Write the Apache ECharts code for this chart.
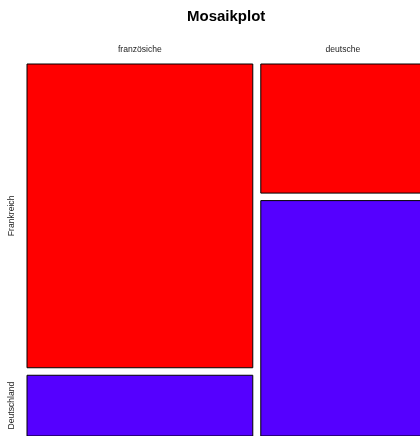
<!DOCTYPE html>
<html>
<head>
<meta charset="utf-8">
<script src="https://cdn.jsdelivr.net/npm/echarts@6/dist/echarts.min.js"></script>
<style>html,body{margin:0;padding:0;background:#fff}#c{width:420px;height:436px}</style>
</head>
<body>
<div id="c"></div>
<script>
// Data
var columns = ['französiche', 'deutsche'];
var rows = ['Frankreich', 'Deutschland'];
var frankreich = [55, 17];
var deutschland = [11, 31];
var rowColors = ['#ff0000', '#5500ff'];

var values = [frankreich, deutschland];
var colTotals = columns.map(function (c, i) { return frankreich[i] + deutschland[i]; });
var grand = colTotals.reduce(function (a, b) { return a + b; }, 0);
var colStarts = [];
(function () { var s = 0; colTotals.forEach(function (t) { colStarts.push(s); s += t; }); })();

var GAP_X = 8, GAP_Y = 7.5;
var FONT = 'Liberation Sans, Arial, Helvetica, sans-serif';

var cells = [];
columns.forEach(function (c, ci) {
  rows.forEach(function (r, ri) { cells.push([ci, ri]); });
});

var chart = echarts.init(document.getElementById('c'), null, { renderer: 'canvas' });
chart.setOption({
  animation: false,
  backgroundColor: '#fff',
  title: {
    text: 'Mosaikplot', left: 182, top: 4,
    textStyle: { fontFamily: FONT, fontSize: 15, fontWeight: 'bold', color: '#000' }
  },
  grid: { left: 27, top: 64, width: 390, height: 364.5 },
  xAxis: { type: 'value', min: 0, max: grand, show: false },
  yAxis: { type: 'value', min: 0, max: 1, inverse: true, show: false },
  series: [{
    type: 'custom',
    clip: false,
    data: cells,
    renderItem: function (params, api) {
      var ci = api.value(0), ri = api.value(1);
      var total = colTotals[ci];
      var fStart = 0;
      for (var k = 0; k < ri; k++) fStart += values[k][ci] / total;
      var fEnd = fStart + values[ri][ci] / total;
      var x0 = api.coord([colStarts[ci], 0])[0] + ci * GAP_X;
      var x1 = api.coord([colStarts[ci] + total, 0])[0] + ci * GAP_X;
      var y0 = api.coord([0, fStart])[1] + ri * GAP_Y;
      var y1 = api.coord([0, fEnd])[1] + ri * GAP_Y;
      var children = [{
        type: 'rect',
        shape: { x: x0, y: y0, width: x1 - x0, height: y1 - y0 },
        style: { fill: rowColors[ri], stroke: '#000', lineWidth: 1 }
      }];
      if (ri === 0) {
        children.push({
          type: 'text', x: (x0 + x1) / 2, y: y0 - 14,
          style: { text: columns[ci], fontSize: 8.6, fontFamily: FONT, fill: '#222', align: 'center', verticalAlign: 'middle' }
        });
      }
      if (ci === 0) {
        children.push({
          type: 'text', x: 12, y: (y0 + y1) / 2, rotation: Math.PI / 2,
          style: { text: rows[ri], fontSize: 8.6, fontFamily: FONT, fill: '#222', align: 'center', verticalAlign: 'middle' }
        });
      }
      return { type: 'group', children: children };
    }
  }]
});
</script>
</body>
</html>
